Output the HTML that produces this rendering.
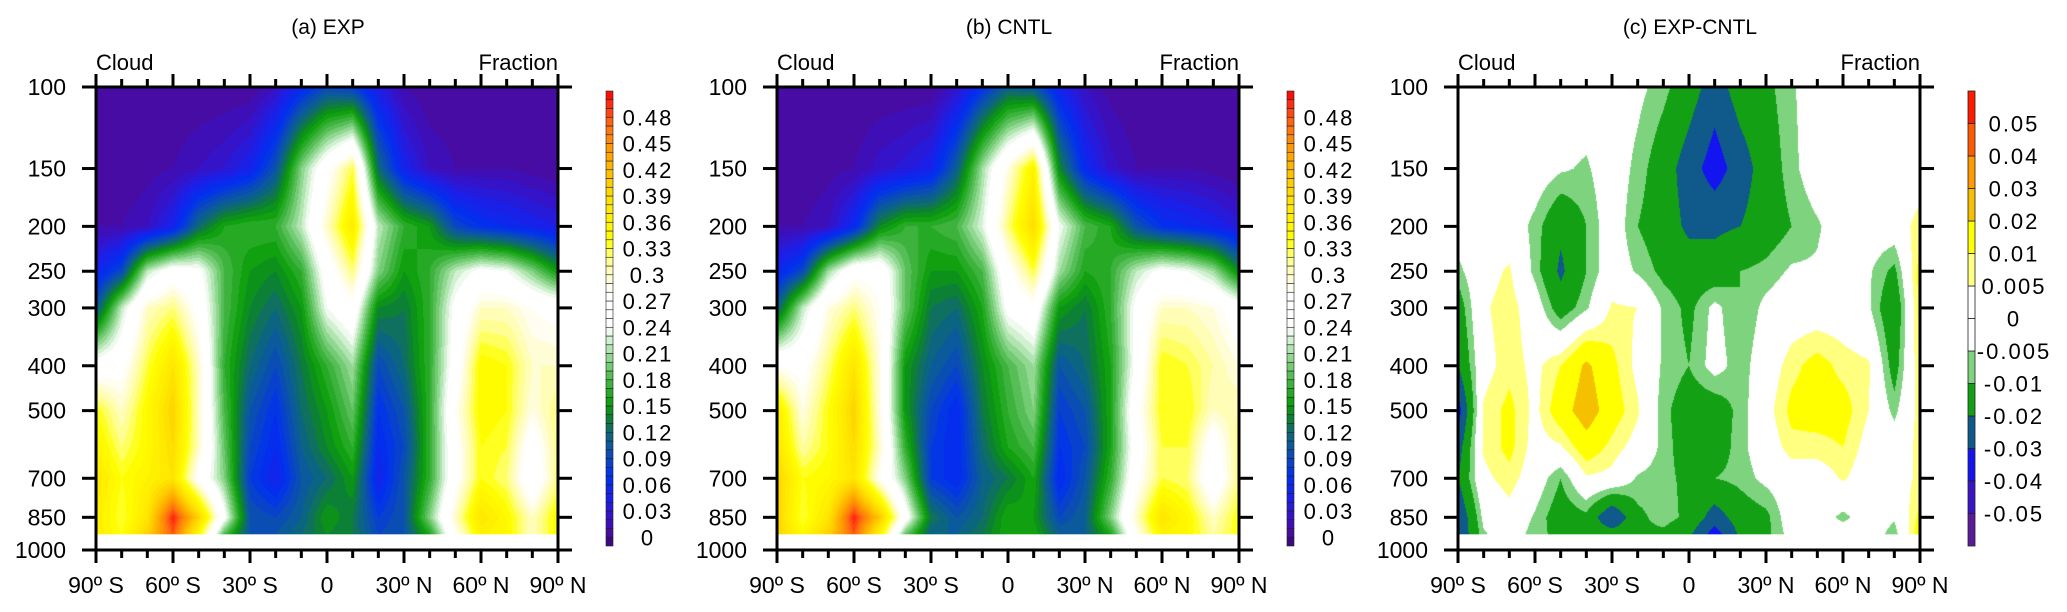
<!DOCTYPE html>
<html><head><meta charset="utf-8">
<style>
html,body{margin:0;padding:0;background:#fff;}
#wrap{position:relative;width:2067px;height:612px;overflow:hidden;background:#fff;font-family:"Liberation Sans",sans-serif;}
canvas{position:absolute;}
svg{position:absolute;left:0;top:0;}
</style></head>
<body>
<div id="wrap">
<canvas id="cva" width="462" height="448" style="left:96px;top:87px"></canvas>
<canvas id="cvb" width="462" height="448" style="left:777px;top:87px"></canvas>
<canvas id="cvc" width="462" height="448" style="left:1458px;top:87px"></canvas>
<svg id="svg" width="2067" height="612"></svg>
</div>
<script>
// ---- data ----
const lats = [-90,-80,-70,-60,-50,-40,-30,-20,-10,0,10,20,30,40,50,60,70,80,90];
const levels = [100,150,200,250,300,400,500,600,700,850,925];
const expField = [
[0,0,0,0,0,0,0,0.02,0.06,0.09,0.08,0.04,0.01,0,0,0,0,0,0],
[0,0,0.005,0.01,0.02,0.03,0.05,0.1,0.2,0.27,0.33,0.12,0.05,0.02,0.01,0.01,0.01,0.005,0],
[0.01,0.01,0.02,0.05,0.12,0.16,0.17,0.17,0.22,0.3,0.37,0.22,0.17,0.15,0.09,0.07,0.06,0.05,0.04],
[0.05,0.09,0.22,0.26,0.25,0.18,0.15,0.14,0.17,0.26,0.32,0.2,0.15,0.17,0.22,0.25,0.24,0.2,0.15],
[0.1,0.22,0.3,0.32,0.27,0.18,0.14,0.12,0.15,0.24,0.27,0.14,0.13,0.17,0.25,0.3,0.3,0.28,0.27],
[0.26,0.27,0.33,0.38,0.3,0.17,0.12,0.09,0.13,0.17,0.21,0.09,0.12,0.17,0.26,0.35,0.34,0.3,0.3],
[0.34,0.3,0.35,0.4,0.3,0.18,0.1,0.07,0.12,0.15,0.19,0.07,0.1,0.17,0.28,0.35,0.34,0.29,0.32],
[0.36,0.32,0.35,0.39,0.3,0.19,0.09,0.06,0.11,0.14,0.17,0.06,0.09,0.17,0.27,0.34,0.33,0.26,0.32],
[0.38,0.34,0.36,0.38,0.27,0.2,0.08,0.05,0.1,0.12,0.15,0.05,0.1,0.17,0.27,0.34,0.32,0.25,0.32],
[0.37,0.33,0.38,0.5,0.4,0.25,0.1,0.09,0.11,0.15,0.13,0.08,0.1,0.2,0.3,0.38,0.35,0.3,0.35],
[0.37,0.34,0.4,0.48,0.35,0.18,0.1,0.1,0.12,0.14,0.13,0.09,0.1,0.16,0.28,0.36,0.35,0.3,0.35]
];
const cntlField = [
[0,0,0,0,0,0,0,0.025,0.07,0.11,0.1,0.05,0.02,0.005,0,0,0,0,0],
[0,0,0.005,0.01,0.025,0.035,0.05,0.11,0.21,0.29,0.36,0.14,0.06,0.025,0.01,0.01,0.01,0.005,0],
[0.01,0.01,0.02,0.06,0.14,0.17,0.17,0.18,0.23,0.32,0.39,0.24,0.18,0.16,0.1,0.07,0.06,0.05,0.035],
[0.055,0.09,0.21,0.27,0.27,0.19,0.15,0.15,0.18,0.27,0.33,0.21,0.16,0.17,0.22,0.25,0.24,0.21,0.14],
[0.11,0.22,0.29,0.32,0.28,0.19,0.13,0.12,0.16,0.25,0.27,0.15,0.13,0.17,0.25,0.3,0.3,0.29,0.26],
[0.28,0.27,0.32,0.38,0.29,0.15,0.11,0.09,0.14,0.18,0.21,0.1,0.12,0.16,0.25,0.34,0.33,0.31,0.29],
[0.37,0.29,0.34,0.4,0.29,0.15,0.09,0.06,0.13,0.17,0.2,0.08,0.1,0.16,0.27,0.34,0.34,0.3,0.31],
[0.38,0.31,0.34,0.39,0.3,0.17,0.08,0.06,0.12,0.16,0.18,0.07,0.09,0.16,0.26,0.33,0.33,0.26,0.32],
[0.4,0.34,0.35,0.38,0.28,0.2,0.08,0.06,0.11,0.13,0.16,0.06,0.1,0.17,0.27,0.33,0.32,0.25,0.32],
[0.4,0.33,0.38,0.5,0.41,0.26,0.13,0.1,0.12,0.16,0.15,0.09,0.11,0.2,0.3,0.38,0.35,0.3,0.34],
[0.4,0.35,0.4,0.48,0.36,0.19,0.11,0.11,0.13,0.16,0.16,0.11,0.11,0.16,0.28,0.36,0.35,0.31,0.34]
];
const diffField = [
[0,0,0,0,0,0,0,-0.003,-0.008,-0.015,-0.025,-0.015,-0.012,-0.006,0,0,0,0,0],
[0,0,0,0,-0.004,-0.006,0,-0.007,-0.015,-0.025,-0.035,-0.025,-0.015,-0.007,0,0,0,0,0],
[0,0,0,-0.007,-0.018,-0.01,0,-0.01,-0.015,-0.022,-0.022,-0.02,-0.015,-0.01,-0.006,0,0,0,0.008],
[-0.007,0.002,0.006,-0.007,-0.022,-0.01,0,-0.006,-0.012,-0.015,-0.015,-0.01,-0.008,-0.004,-0.004,0,-0.004,-0.012,0.013],
[-0.015,0.004,0.008,0,-0.015,-0.006,0.006,0.005,-0.006,-0.012,-0.003,-0.01,-0.003,0,0,0,-0.004,-0.018,0.012],
[-0.02,0.002,0.008,0.003,0.01,0.022,0.012,0.003,-0.006,-0.01,-0.002,-0.008,0,0.008,0.013,0.008,0.006,-0.014,0.01],
[-0.035,0.006,0.012,0.003,0.015,0.026,0.014,0.006,-0.008,-0.015,-0.015,-0.008,0.002,0.012,0.013,0.013,0.005,-0.007,0.008],
[-0.025,0.006,0.012,0.002,0.004,0.015,0.008,0.002,-0.007,-0.015,-0.015,-0.007,0,0.008,0.008,0.01,0.002,0,0.007],
[-0.02,0.003,0.008,0,-0.01,0.004,0.003,-0.006,-0.008,-0.012,-0.01,-0.008,-0.003,0,0,0.006,0,0,0.007],
[-0.03,-0.003,0.002,-0.006,-0.015,-0.012,-0.03,-0.012,-0.007,-0.012,-0.025,-0.015,-0.012,0,0,-0.007,0,-0.004,0.012],
[-0.03,-0.006,0,-0.008,-0.012,-0.013,-0.015,-0.012,-0.012,-0.018,-0.035,-0.018,-0.012,-0.002,0,0,0,-0.008,0.015]
];
const yTickLabels = [100,150,200,250,300,400,500,700,850,1000];
const xTickLabels = ["90º S","60º S","30º S","0","30º N","60º N","90º N"];
const xTickLats = [-90,-60,-30,0,30,60,90];
const cbLabelsAB = ["0","0.03","0.06","0.09","0.12","0.15","0.18","0.21","0.24","0.27","0.3","0.33","0.36","0.39","0.42","0.45","0.48"];
const cbLevelsC = [-0.05,-0.04,-0.03,-0.02,-0.01,-0.005,0,0.005,0.01,0.02,0.03,0.04,0.05];
const cbColorsC = ["#5a1a9a","#3c14c8","#1414f0","#0f5a8a","#14a014","#7ed47e","#ffffff","#ffffff","#ffff80","#ffff00","#f5c000","#ff9a00","#ff5a00","#ff1a00"];
const titles = ["(a) EXP","(b) CNTL","(c) EXP-CNTL"];

// ---- geometry ----
const PX0 = [96,777,1458], PW = 462, PTOP = 87, DEC = 463;
const yOf = p => PTOP + Math.log10(p/100)*DEC;
const xOf = (k,lat) => PX0[k] + (lat+90)/180*PW;

// ---- color maps ----
const stops = [[-0.01,"#3a0a80"],[0,"#4a0a9a"],[0.02,"#3a10c0"],[0.045,"#1a20e8"],[0.07,"#0030f0"],[0.09,"#0a48c0"],[0.11,"#0a6090"],[0.125,"#107060"],[0.14,"#0a8a20"],[0.155,"#10a010"],[0.18,"#48b848"],[0.205,"#90d890"],[0.225,"#d0f0d0"],[0.24,"#ffffff"],[0.28,"#ffffff"],[0.30,"#fffcc8"],[0.32,"#ffff80"],[0.34,"#ffff00"],[0.38,"#ffe600"],[0.41,"#ffc800"],[0.44,"#ffa000"],[0.47,"#ff7010"],[0.50,"#ff2010"],[0.52,"#f00000"]];
function hex(h){return [parseInt(h.substr(1,2),16),parseInt(h.substr(3,2),16),parseInt(h.substr(5,2),16)];}
function stopColor(v){
  if(v<=stops[0][0]) return hex(stops[0][1]);
  for(let i=1;i<stops.length;i++){ if(v<=stops[i][0]){const a=hex(stops[i-1][1]),b=hex(stops[i][1]);const t=(v-stops[i-1][0])/(stops[i][0]-stops[i-1][0]);return a.map((x,j)=>Math.round(x+(b[j]-x)*t));}}
  return hex(stops[stops.length-1][1]);
}
const abColors=[];
for(let k=0;k<52;k++){ abColors.push(stopColor(k===0?-0.01:(k===51?0.51:(k-1)*0.01+0.005))); }
function abIndex(v){ if(v<0) return 0; const k=Math.floor(v/0.01)+1; return Math.min(51,k); }
function cIndex(v){ let k=0; while(k<cbLevelsC.length && v>=cbLevelsC[k]) k++; return k; }
const cColorsRGB = cbColorsC.map(hex);

function sample(field, lat, p){
  let i=Math.min(17,Math.max(0,Math.floor((lat+90)/10))); const tx=(lat-lats[i])/10;
  const lp=Math.log(p); let j=0;
  while(j<levels.length-2 && lp>Math.log(levels[j+1])) j++;
  let ty=(lp-Math.log(levels[j]))/(Math.log(levels[j+1])-Math.log(levels[j])); ty=Math.max(0,Math.min(1,ty));
  const a=field[j][i],b=field[j][i+1],c=field[j+1][i],d=field[j+1][i+1];
  return (a*(1-tx)+b*tx)*(1-ty)+(c*(1-tx)+d*tx)*ty;
}
function paint(id, field, isDiff){
  const cv=document.getElementById(id), ctx=cv.getContext('2d');
  const img=ctx.createImageData(cv.width,cv.height);
  for(let y=0;y<cv.height;y++){
    const p=100*Math.pow(10,(y+0.5)/DEC);
    for(let x=0;x<cv.width;x++){
      const lat=-90+(x+0.5)/PW*180;
      const v=sample(field,lat,p);
      const col=isDiff?cColorsRGB[cIndex(v)]:abColors[abIndex(v)];
      const o=(y*cv.width+x)*4; img.data[o]=col[0];img.data[o+1]=col[1];img.data[o+2]=col[2];img.data[o+3]=255;
    }
  }
  ctx.putImageData(img,0,0);
}
paint('cva',expField,false);
paint('cvb',cntlField,false);
paint('cvc',diffField,true);

// ---- SVG axes ----
const svg=document.getElementById('svg'); const NS="http://www.w3.org/2000/svg";
function mk(tag,attrs,parent){const e=document.createElementNS(NS,tag);for(const k in attrs)e.setAttribute(k,attrs[k]);(parent||svg).appendChild(e);return e;}
const panelNames=["exp","cntl","diff"];
for(let k=0;k<3;k++){
  const g=mk('g',{});
  
  
  const x0=PX0[k], x1=x0+PW, y0=PTOP, y1=yOf(1000);
  const t=mk('text',{x:x0+232,y:34,'text-anchor':'middle','font-size':21,'font-family':'Liberation Sans, sans-serif'},g); t.textContent=titles[k];
  
  
  const c1=mk('text',{x:x0,y:70,'font-size':22,'font-family':'Liberation Sans, sans-serif'},g); c1.textContent="Cloud";
  
  
  const c2=mk('text',{x:x1,y:70,'text-anchor':'end','font-size':22,'font-family':'Liberation Sans, sans-serif'},g); c2.textContent="Fraction";
  
  
  mk('rect',{x:x0,y:yOf(925),width:PW,height:y1-yOf(925),fill:'#fff'},g);
  for(let lat=-90;lat<=90;lat+=10){
    const x=xOf(k,lat), major=(lat%30===0);
    mk('line',{x1:x,x2:x,y1:y1,y2:y1+(major?13:8),stroke:'#000','stroke-width':3},g);
    mk('line',{x1:x,x2:x,y1:y0,y2:y0-(major?13:8),stroke:'#000','stroke-width':3},g);
  }
  xTickLabels.forEach((s,i)=>{
    const tx=mk('text',{x:xOf(k,xTickLats[i]),y:593,'text-anchor':'middle','font-size':23,'font-family':'Liberation Sans, sans-serif'},g); tx.textContent=s;
    
    
  });
  yTickLabels.forEach(p=>{
    const y=yOf(p);
    mk('line',{x1:x0-14,x2:x0,y1:y,y2:y,stroke:'#000','stroke-width':3},g);
    mk('line',{x1:x1,x2:x1+14,y1:y,y2:y,stroke:'#000','stroke-width':3},g);
    const ty=mk('text',{x:x0-30,y:y+8,'text-anchor':'end','font-size':23,'font-family':'Liberation Sans, sans-serif'},g); ty.textContent=p;
    
    
  });
  const fr=mk('rect',{x:x0,y:y0,width:PW,height:y1-y0,fill:'none',stroke:'#000','stroke-width':3},g);
  
  
  const cbx=606+681*k, cbTop=91, cbBot=546, cb=mk('g',{},g);
  
  
  if(k<2){
    const n=52, h=(cbBot-cbTop)/n;
    for(let i=0;i<n;i++){ const col=abColors[i];
      mk('rect',{x:cbx,y:cbBot-(i+1)*h,width:7,height:h,fill:`rgb(${col[0]},${col[1]},${col[2]})`,stroke:'#222','stroke-width':0.6},cb); }
    cbLabelsAB.forEach((s,i)=>{ const y=cbBot-(1+3*i)*h;
      const tl=mk('text',{x:cbx+42,y:y+8,'text-anchor':'middle','font-size':22,'letter-spacing':'2','font-family':'Liberation Sans, sans-serif'},cb); tl.textContent=s;
      
       });
  } else {
    const n=cbColorsC.length, h=(cbBot-cbTop)/n;
    for(let i=0;i<n;i++) mk('rect',{x:cbx,y:cbBot-(i+1)*h,width:7,height:h,fill:cbColorsC[i],stroke:'#222','stroke-width':0.8},cb);
    cbLevelsC.forEach((v,i)=>{ const y=cbBot-(i+1)*h;
      const tl=mk('text',{x:cbx+46,y:y+8,'text-anchor':'middle','font-size':22,'letter-spacing':'2','font-family':'Liberation Sans, sans-serif'},cb); tl.textContent=String(v);
      
       });
  }
}
</script>
</body></html>
